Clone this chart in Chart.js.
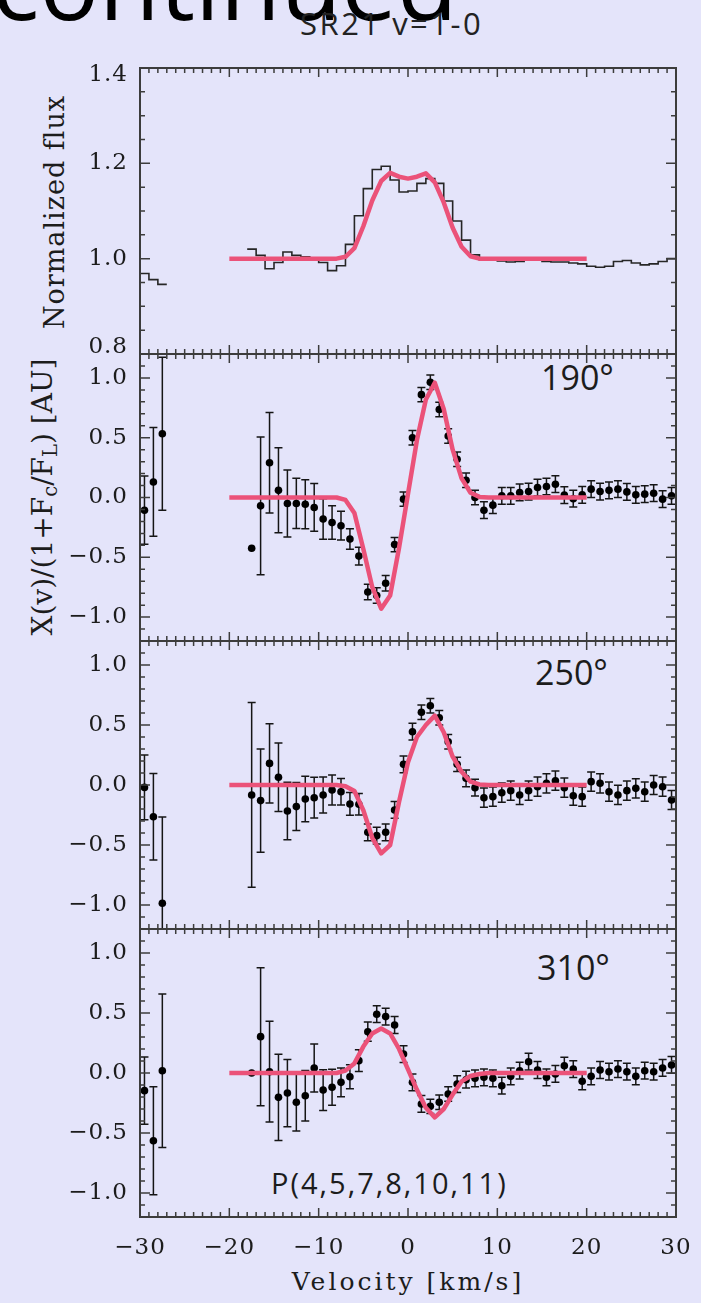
<!DOCTYPE html>
<html><head><meta charset="utf-8">
<script src="https://cdn.jsdelivr.net/npm/chart.js@4.4.1/dist/chart.umd.min.js"></script>
<style>
html,body{margin:0;padding:0;background:#E4E4FA;width:701px;height:1303px;overflow:hidden;}
body{position:relative;}
canvas{position:absolute;left:0;}
.t{position:absolute;white-space:nowrap;line-height:1;margin:0;}
.sans{font-family:"Open Sans",sans-serif;color:#1c1c1c;}
.serif{font-family:"DejaVu Serif",serif;color:#1c1c1c;}
.rot{transform:translate(-50%,-50%) rotate(-90deg);}
sub{font-size:0.7em;line-height:0;vertical-align:-0.25em;}
</style></head><body>
<div class="t sans" id="cont" style="font-size:99px;left:-8px;top:-68px;color:#000;">continued</div>
<div class="t sans" style="font-size:31px;left:300px;top:8px;letter-spacing:2.5px;color:#222;">SR21 v=1-0</div>
<div class="t serif rot" style="font-size:27px;left:54px;top:212px;letter-spacing:1px;">Normalized flux</div>
<div class="t serif rot" style="font-size:28px;left:43px;top:497px;">X(v)/(1+F<sub>c</sub>/F<sub>L</sub>) [AU]</div>
<div class="t sans" style="font-size:34px;left:541px;top:360px;">190°</div>
<div class="t sans" style="font-size:34px;left:535px;top:655px;">250°</div>
<div class="t sans" style="font-size:34px;left:537px;top:950px;">310°</div>
<div class="t sans" style="font-size:29px;left:271px;top:1168px;letter-spacing:2px;">P(4,5,7,8,10,11)</div>
<div class="t serif" style="font-size:25px;left:408px;top:1269px;letter-spacing:3px;transform:translateX(-50%);">Velocity [km/s]</div>

<script>
// ---------------- DATA ----------------
const velocity = [-29.5,-28.5,-27.5,-17.5,-16.5,-15.5,-14.5,-13.5,-12.5,-11.5,-10.5,-9.5,-8.5,-7.5,-6.5,-5.5,-4.5,-3.5,-2.5,-1.5,-0.5,0.5,1.5,2.5,3.5,4.5,5.5,6.5,7.5,8.5,9.5,10.5,11.5,12.5,13.5,14.5,15.5,16.5,17.5,18.5,19.5,20.5,21.5,22.5,23.5,24.5,25.5,26.5,27.5,28.5,29.5];

const fluxValues = [0.969,0.956,0.946,1.020,1.007,0.979,0.992,1.014,1.007,1.004,0.998,0.992,0.975,0.985,1.030,1.090,1.147,1.187,1.194,1.165,1.140,1.142,1.158,1.168,1.158,1.121,1.079,1.039,1.008,0.997,0.997,0.995,0.993,0.994,0.997,0.997,0.994,0.993,0.993,0.991,0.989,0.984,0.982,0.984,0.994,0.996,0.991,0.987,0.989,0.994,1.000];

const pa190 = [-0.106,0.13,0.533,-0.425,-0.07,0.29,0.06,-0.05,-0.05,-0.056,-0.083,-0.18,-0.21,-0.236,-0.347,-0.49,-0.79,-0.82,-0.717,-0.394,-0.014,0.5,0.86,0.964,0.736,0.514,0.32,0.144,0.0,-0.106,-0.064,0.014,0.014,0.042,0.05,0.083,0.092,0.111,0.02,-0.01,0.022,0.07,0.05,0.06,0.07,0.047,0.022,0.028,0.036,-0.014,0.014];
const err190 = [0.285,0.455,0.64,0,0.576,0.42,0.355,0.28,0.21,0.205,0.2,0.17,0.14,0.12,0.085,0.075,0.065,0.065,0.065,0.06,0.06,0.06,0.06,0.06,0.06,0.06,0.06,0.06,0.06,0.07,0.07,0.07,0.07,0.07,0.07,0.07,0.07,0.07,0.07,0.07,0.07,0.07,0.07,0.07,0.07,0.07,0.07,0.07,0.07,0.07,0.07];

const pa250 = [-0.02,-0.264,-0.986,-0.083,-0.13,0.18,0.064,-0.217,-0.18,-0.117,-0.106,-0.083,-0.042,-0.056,-0.158,-0.16,-0.394,-0.422,-0.394,-0.208,0.172,0.444,0.606,0.661,0.561,0.361,0.172,0.056,-0.022,-0.106,-0.097,-0.064,-0.047,-0.083,-0.047,-0.014,0.014,0.036,-0.022,-0.089,-0.097,0.028,0.014,-0.056,-0.083,-0.047,-0.028,-0.056,0.0,-0.014,-0.125];
const err250 = [0.27,0.36,0.72,0.77,0.43,0.33,0.285,0.24,0.2,0.19,0.17,0.15,0.125,0.11,0.095,0.09,0.07,0.07,0.07,0.07,0.07,0.07,0.06,0.06,0.06,0.06,0.06,0.07,0.07,0.08,0.08,0.08,0.08,0.08,0.08,0.08,0.08,0.08,0.08,0.08,0.08,0.08,0.08,0.08,0.08,0.08,0.08,0.08,0.08,0.08,0.08];

const pa310 = [-0.147,-0.564,0.019,0.0,0.303,0.011,-0.203,-0.167,-0.244,-0.189,0.042,-0.142,-0.119,-0.078,-0.031,0.103,0.344,0.49,0.47,0.4,0.158,-0.078,-0.258,-0.278,-0.244,-0.175,-0.092,-0.056,-0.044,-0.036,-0.044,-0.106,-0.028,0.019,0.094,0.025,-0.036,-0.008,0.061,0.033,-0.069,-0.028,0.025,0.011,0.033,0.011,-0.028,0.019,0.011,0.042,0.067];
const err310 = [0.28,0.45,0.64,0,0.575,0.42,0.36,0.28,0.24,0.21,0.2,0.17,0.15,0.12,0.1,0.09,0.08,0.07,0.07,0.07,0.07,0.07,0.07,0.06,0.06,0.06,0.07,0.07,0.07,0.07,0.07,0.07,0.07,0.07,0.07,0.07,0.07,0.07,0.07,0.07,0.07,0.07,0.07,0.07,0.07,0.07,0.07,0.07,0.07,0.07,0.07];

const modelVelocity = [-20,-19,-18,-17,-16,-15,-14,-13,-12,-11,-10,-9,-8,-7,-6,-5,-4,-3,-2,-1,0,1,2,3,4,5,6,7,8,9,10,11,12,13,14,15,16,17,18,19,20];
const modelFlux = [1,1,1,1,1,1,1,1,1,1,1,1,1,1.004,1.022,1.068,1.122,1.163,1.18,1.172,1.168,1.172,1.179,1.16,1.118,1.065,1.025,1.005,1,1,1,1,1,1,1,1,1,1,1,1,1];
const model190 = [0,0,0,0,0,0,0,0,0,0,0,0,0,-0.02,-0.13,-0.43,-0.75,-0.93,-0.82,-0.42,0.03,0.48,0.82,0.96,0.74,0.4,0.16,0.04,0.005,0,0,0,0,0,0,0,0,0,0,0,0];
const model250 = [0,0,0,0,0,0,0,0,0,0,0,0,0,-0.01,-0.05,-0.21,-0.44,-0.57,-0.5,-0.14,0.19,0.4,0.5,0.578,0.44,0.236,0.11,0.028,0.005,0,0,0,0,0,0,0,0,0,0,0,0];
const model310 = [0,0,0,0,0,0,0,0,0,0,0,0,0,0.02,0.08,0.22,0.33,0.37,0.33,0.2,0.03,-0.14,-0.29,-0.37,-0.3,-0.18,-0.07,-0.025,-0.008,0,0,0,0,0,0,0,0,0,0,0,0];

const fluxTicks = [0.8, 1.0, 1.2, 1.4];
const offsetTicks = [-1.0, -0.5, 0.0, 0.5, 1.0];
const velocityTicks = [-30, -20, -10, 0, 10, 20, 30];

// ---------------- HELPERS ----------------
const MODEL_COLOR = '#EB5279';
const uminus = s => s.replace('-', '\u2212');

function histogramPoints(centers, values) {
  const pts = [];
  for (let i = 0; i < centers.length; i++) {
    const c = centers[i];
    pts.push({x: c - 0.5, y: values[i]});
    const next = centers[i + 1];
    if (next === undefined || next - c > 1.01) {
      pts.push({x: c + 0.5, y: values[i]});
      if (next !== undefined) pts.push({x: (c + next) / 2, y: null});
    }
  }
  return pts;
}
const pairs = (xs, ys) => xs.map((x, i) => ({x, y: ys[i]}));

const errorBars = {
  id: 'errorBars',
  beforeDatasetsDraw(chart) {
    const {ctx, chartArea: a, scales: {x, y}} = chart;
    ctx.save();
    ctx.beginPath(); ctx.rect(a.left, a.top, a.width, a.height); ctx.clip();
    ctx.strokeStyle = '#151515'; ctx.lineWidth = 1.5;
    chart.data.datasets.forEach(ds => {
      if (!ds.errors) return;
      ds.data.forEach((p, i) => {
        const e = ds.errors[i];
        if (!e) return;
        const px = x.getPixelForValue(p.x);
        const y1 = y.getPixelForValue(p.y - e), y2 = y.getPixelForValue(p.y + e);
        ctx.beginPath();
        ctx.moveTo(px, y1); ctx.lineTo(px, y2);
        ctx.moveTo(px - 4, y1); ctx.lineTo(px + 4, y1);
        ctx.moveTo(px - 4, y2); ctx.lineTo(px + 4, y2);
        ctx.stroke();
      });
    });
    ctx.restore();
  }
};

const frame = {
  id: 'frame',
  beforeDraw(chart) { chart.ctx.letterSpacing = '1px'; },
  afterDatasetsDraw(chart, args, opts) {
    const {ctx, chartArea: a, scales: {x, y}} = chart;
    ctx.save();
    ctx.letterSpacing = '0px';
    ctx.strokeStyle = '#3c3c3c';
    ctx.lineWidth = 1.5;
    ctx.beginPath();
    for (let k = -30; k <= 30; k++) {
      const px = x.getPixelForValue(k);
      const L = (k % 10 === 0) ? 9 : 5;
      ctx.moveTo(px, a.top); ctx.lineTo(px, a.top + L);
      ctx.moveTo(px, a.bottom); ctx.lineTo(px, a.bottom - L);
    }
    const kMin = Math.round(y.min / opts.minor), kMax = Math.round(y.max / opts.minor);
    for (let k = kMin; k <= kMax; k++) {
      const v = k * opts.minor;
      const r = v / opts.major;
      const L = Math.abs(r - Math.round(r)) < 1e-6 ? 10 : 5;
      const py = y.getPixelForValue(v);
      ctx.moveTo(a.left, py); ctx.lineTo(a.left + L, py);
      ctx.moveTo(a.right, py); ctx.lineTo(a.right - L, py);
    }
    ctx.stroke();
    ctx.lineWidth = 2;
    ctx.strokeRect(a.left, a.top, a.right - a.left, a.bottom - a.top);
    ctx.restore();
  }
};

function makePanel(cfg) {
  const cv = document.createElement('canvas');
  cv.width = 701; cv.height = cfg.canvasHeight;
  cv.style.top = cfg.canvasTop + 'px';
  document.body.appendChild(cv);
  const datasets = [];
  datasets.push({
    data: pairs(modelVelocity, cfg.model), showLine: true, borderColor: MODEL_COLOR,
    borderWidth: 4.5, pointRadius: 0, order: 0, borderCapStyle: 'butt', borderJoinStyle: 'round'
  });
  if (cfg.histogram) {
    datasets.push({
      data: cfg.histogram, showLine: true, stepped: 'before', spanGaps: false,
      borderColor: '#262626', borderWidth: 1.6, pointRadius: 0, order: 2
    });
  }
  if (cfg.points) {
    datasets.push({
      data: cfg.points, errors: cfg.errors, showLine: false, pointRadius: 3.8,
      pointBackgroundColor: '#000', pointBorderWidth: 0, order: 1
    });
  }
  return new Chart(cv, {
    type: 'scatter',
    data: {datasets},
    options: {
      responsive: false, animation: false, devicePixelRatio: 1, events: [],
      layout: {padding: {left: 0, right: 25, top: 25, bottom: cfg.showX ? 0 : 25}},
      plugins: {legend: {display: false}, tooltip: {enabled: false}, frame: cfg.tickSteps},
      scales: {
        x: {
          type: 'linear', min: -30, max: 30, display: cfg.showX,
          grid: {display: false, drawTicks: false}, border: {display: false},
          afterBuildTicks: s => { s.ticks = velocityTicks.map(v => ({value: v})); },
          afterFit: s => { s.height = cfg.showX ? 50 : 0; s.paddingLeft = 0; s.paddingRight = 0; },
          ticks: {padding: 17, color: '#1c1c1c', font: {family: 'DejaVu Serif', size: 23},
                  maxRotation: 0, autoSkip: false, callback: v => uminus(String(v))}
        },
        y: {
          type: 'linear', min: cfg.yMin, max: cfg.yMax,
          grid: {display: false, drawTicks: false}, border: {display: false},
          afterBuildTicks: s => { s.ticks = cfg.yTicks.map(v => ({value: v})); },
          afterFit: s => { s.width = 140; s.paddingTop = 0; s.paddingBottom = 0; },
          ticks: {padding: 12, color: '#1c1c1c', autoSkip: false,
                  font: {family: 'DejaVu Serif', size: 23, lineHeight: cfg.labelLH || 1.2},
                  callback: cfg.yLabel}
        }
      }
    },
    plugins: [errorBars, frame]
  });
}

const offsetLabel = v => uminus(v.toFixed(1));

makePanel({
  canvasTop: 43, canvasHeight: 286 + 50, yMin: 0.8, yMax: 1.4, yTicks: fluxTicks,
  labelLH: 0.62,
  yLabel: v => {
    const s = v.toFixed(1);
    if (Math.abs(v - 1.4) < 1e-6) return ['', s];
    if (Math.abs(v - 0.8) < 1e-6) return [s, ''];
    return s;
  },
  tickSteps: {minor: 0.05, major: 0.2},
  model: modelFlux, histogram: histogramPoints(velocity, fluxValues), showX: false
});
makePanel({
  canvasTop: 329, canvasHeight: 287 + 50, yMin: -1.2, yMax: 1.2, yTicks: offsetTicks,
  yLabel: offsetLabel, tickSteps: {minor: 0.1, major: 0.5},
  model: model190, points: pairs(velocity, pa190), errors: err190, showX: false
});
makePanel({
  canvasTop: 616, canvasHeight: 288 + 50, yMin: -1.2, yMax: 1.2, yTicks: offsetTicks,
  yLabel: offsetLabel, tickSteps: {minor: 0.1, major: 0.5},
  model: model250, points: pairs(velocity, pa250), errors: err250, showX: false
});
makePanel({
  canvasTop: 904, canvasHeight: 288 + 25 + 50, yMin: -1.2, yMax: 1.2, yTicks: offsetTicks,
  yLabel: offsetLabel, tickSteps: {minor: 0.1, major: 0.5},
  model: model310, points: pairs(velocity, pa310), errors: err310, showX: true
});
</script>
</body></html>
